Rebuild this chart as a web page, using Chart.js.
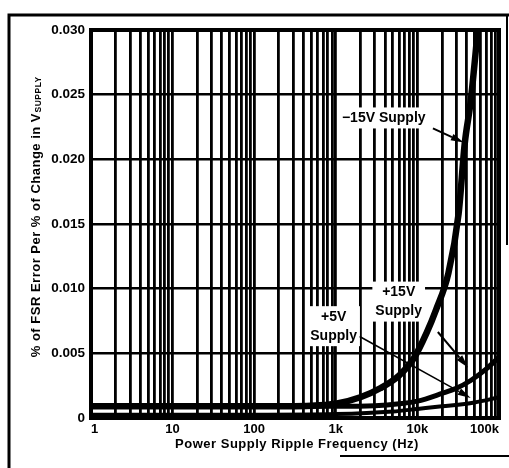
<!DOCTYPE html>
<html>
<head>
<meta charset="utf-8">
<script src="https://cdn.jsdelivr.net/npm/chart.js@4.4.0/dist/chart.umd.min.js"></script>
<style>
  html, body { margin: 0; padding: 0; background: #fff; }
  #wrap { width: 509px; height: 468px; }
</style>
</head>
<body>
<div id="wrap"><canvas id="chart" width="509" height="468"></canvas></div>
<script>
// x axis decades and their labels
const decades = [1, 10, 100, 1000, 10000, 100000];
const decadeLabels = ["1", "10", "100", "1k", "10k", "100k"];
const yTicks = [0, 0.005, 0.01, 0.015, 0.02, 0.025, 0.03];

// -15V supply
const freqNeg15 = [1, 100, 500, 1000, 2000, 3500, 6000, 9000, 13000, 17000, 24000, 32000, 38000, 45000, 55000];
const errNeg15 = [0.0009, 0.0009, 0.00095, 0.0011, 0.0016, 0.0023, 0.0033, 0.0046, 0.0066, 0.0084, 0.0112, 0.0158, 0.0212, 0.0245, 0.0300];

// +15V supply
const freqPos15 = [1, 100, 1000, 3000, 6000, 10000, 20000, 30000, 45000, 70000, 100000];
const errPos15 = [0.0009, 0.0009, 0.0009, 0.00095, 0.0011, 0.0013, 0.0019, 0.0023, 0.0029, 0.0038, 0.0047];

// +5V supply
const freqPos5 = [1, 100, 1000, 5000, 10000, 20000, 50000, 100000];
const errPos5 = [0.00025, 0.00025, 0.0003, 0.0005, 0.0007, 0.0009, 0.0012, 0.0016];

const FONT = "'Liberation Sans', Arial, sans-serif";

function pts(xs, ys) {
  return xs.map((x, i) => ({ x: x, y: ys[i] }));
}

// callouts, placed in data coordinates
const callouts = [
  { lines: ["\u221215V Supply"], at: [3870, 0.0232], from: [15500, 0.0224], to: [37000, 0.0213], w: 2 },
  { lines: ["+15V", "Supply"], at: [5900, 0.0090], from: [17800, 0.00665], to: [41600, 0.0039], w: 2 },
  { lines: ["+5V", "Supply"], at: [940, 0.0071], from: [1960, 0.0063], to: [45000, 0.00155], w: 1.5 },
];

function arrow(c, x1, y1, x2, y2, w) {
  const a = Math.atan2(y2 - y1, x2 - x1);
  const head = 13, half = 3.5;
  const bx = x2 - head * Math.cos(a), by = y2 - head * Math.sin(a);
  c.lineWidth = w;
  c.beginPath();
  c.moveTo(x1, y1);
  c.lineTo(bx, by);
  c.stroke();
  c.beginPath();
  c.moveTo(x2, y2);
  c.lineTo(bx + half * Math.sin(a), by - half * Math.cos(a));
  c.lineTo(bx - half * Math.sin(a), by + half * Math.cos(a));
  c.closePath();
  c.fill();
}

const decor = {
  id: "decor",
  beforeDraw(chart) {
    const c = chart.ctx;
    c.save();
    c.fillStyle = "#fff";
    c.fillRect(0, 0, chart.width, chart.height);
    // outer frame
    c.strokeStyle = "#000";
    c.lineWidth = 3;
    c.beginPath();
    c.moveTo(9, 468);
    c.lineTo(9, 15);
    c.lineTo(509, 15);
    c.stroke();
    c.lineWidth = 2;
    c.beginPath();
    c.moveTo(507, 15);
    c.lineTo(507, 245);
    c.stroke();
    c.beginPath();
    c.moveTo(340, 456);
    c.lineTo(509, 456);
    c.stroke();
    // x axis title
    c.fillStyle = "#000";
    c.textBaseline = "middle";
    c.textAlign = "center";
    c.letterSpacing = "0.5px";
    c.font = "bold 13px " + FONT;
    c.fillText("Power Supply Ripple Frequency (Hz)", 297, 444);
    // y axis title with subscript
    const main = "% of FSR Error Per % of Change in V", sub = "SUPPLY";
    c.translate(36, 217);
    c.rotate(-Math.PI / 2);
    c.textAlign = "left";
    c.font = "bold 13px " + FONT;
    const w1 = c.measureText(main).width;
    c.font = "bold 8.5px " + FONT;
    const w2 = c.measureText(sub).width;
    const start = -(w1 + w2) / 2;
    c.font = "bold 13px " + FONT;
    c.fillText(main, start, 0);
    c.font = "bold 8.5px " + FONT;
    c.fillText(sub, start + w1 + 0.5, 3);
    c.letterSpacing = "0px";
    c.restore();
  },
  afterDatasetsDraw(chart) {
    const c = chart.ctx;
    const xs = chart.scales.x, ys = chart.scales.y;
    const a = chart.chartArea;
    c.save();
    c.fillStyle = "#000";
    c.strokeStyle = "#000";
    c.font = "bold 14px " + FONT;
    c.textAlign = "center";
    c.textBaseline = "middle";
    callouts.forEach(n => {
      const cx = xs.getPixelForValue(n.at[0]);
      const cy = ys.getPixelForValue(n.at[1]);
      const lh = 19;
      const w = Math.max(...n.lines.map(s => c.measureText(s).width)) + 6;
      const h = n.lines.length * lh + 2;
      c.fillStyle = "#fff";
      c.fillRect(cx - w / 2, cy - h / 2, w, h);
      c.fillStyle = "#000";
      n.lines.forEach((s, i) => {
        c.fillText(s, cx, cy - ((n.lines.length - 1) * lh) / 2 + i * lh);
      });
      arrow(c, xs.getPixelForValue(n.from[0]), ys.getPixelForValue(n.from[1]),
        xs.getPixelForValue(n.to[0]), ys.getPixelForValue(n.to[1]), n.w);
    });
    // heavy plot border
    c.lineWidth = 4;
    c.strokeRect(a.left, a.top, a.right - a.left, a.bottom - a.top);
    c.restore();
  },
};

new Chart(document.getElementById("chart"), {
  type: "line",
  data: {
    datasets: [
      { label: "-15V Supply", data: pts(freqNeg15, errNeg15), borderWidth: 6.5 },
      { label: "+15V Supply", data: pts(freqPos15, errPos15), borderWidth: 5 },
      { label: "+5V Supply", data: pts(freqPos5, errPos5), borderWidth: 4 },
    ],
  },
  options: {
    responsive: false,
    animation: false,
    layout: { padding: { top: 30, right: 10, bottom: 0, left: 0 } },
    elements: {
      line: { borderColor: "#000", cubicInterpolationMode: "monotone", borderCapStyle: "butt" },
      point: { radius: 0 },
    },
    plugins: { legend: { display: false }, tooltip: { enabled: false } },
    scales: {
      x: {
        type: "logarithmic",
        min: 1,
        max: 100000,
        afterBuildTicks(scale) {
          const t = [];
          decades.forEach(d => {
            for (let m = 1; m <= 9; m++) {
              if (d * m <= 100000) t.push({ value: d * m, major: m === 1 });
            }
          });
          scale.ticks = t;
        },
        afterFit(scale) {
          scale.height = 50;
          scale.paddingLeft = 0;
          scale.paddingRight = 0;
        },
        ticks: {
          autoSkip: false,
          maxRotation: 0,
          align: "inner",
          padding: 4,
          color: "#000",
          font: { family: FONT, size: 13, weight: "bold" },
          callback(v) {
            const i = decades.indexOf(v);
            return i >= 0 ? decadeLabels[i] : "";
          },
        },
        grid: { color: "#000", lineWidth: 2.8, drawTicks: false },
        border: { display: false },
      },
      y: {
        min: 0,
        max: 0.03,
        afterBuildTicks(scale) {
          scale.ticks = yTicks.map(v => ({ value: v }));
        },
        afterFit(scale) {
          scale.width = 91;
          scale.paddingTop = 0;
          scale.paddingBottom = 0;
        },
        ticks: {
          padding: 6,
          color: "#000",
          font: { family: FONT, size: 13.5, weight: "bold" },
          callback(v) {
            return v === 0 ? "0" : v.toFixed(3);
          },
        },
        grid: { color: "#000", lineWidth: 2.5, drawTicks: false },
        border: { display: false },
      },
    },
  },
  plugins: [decor],
});
</script>
</body>
</html>
